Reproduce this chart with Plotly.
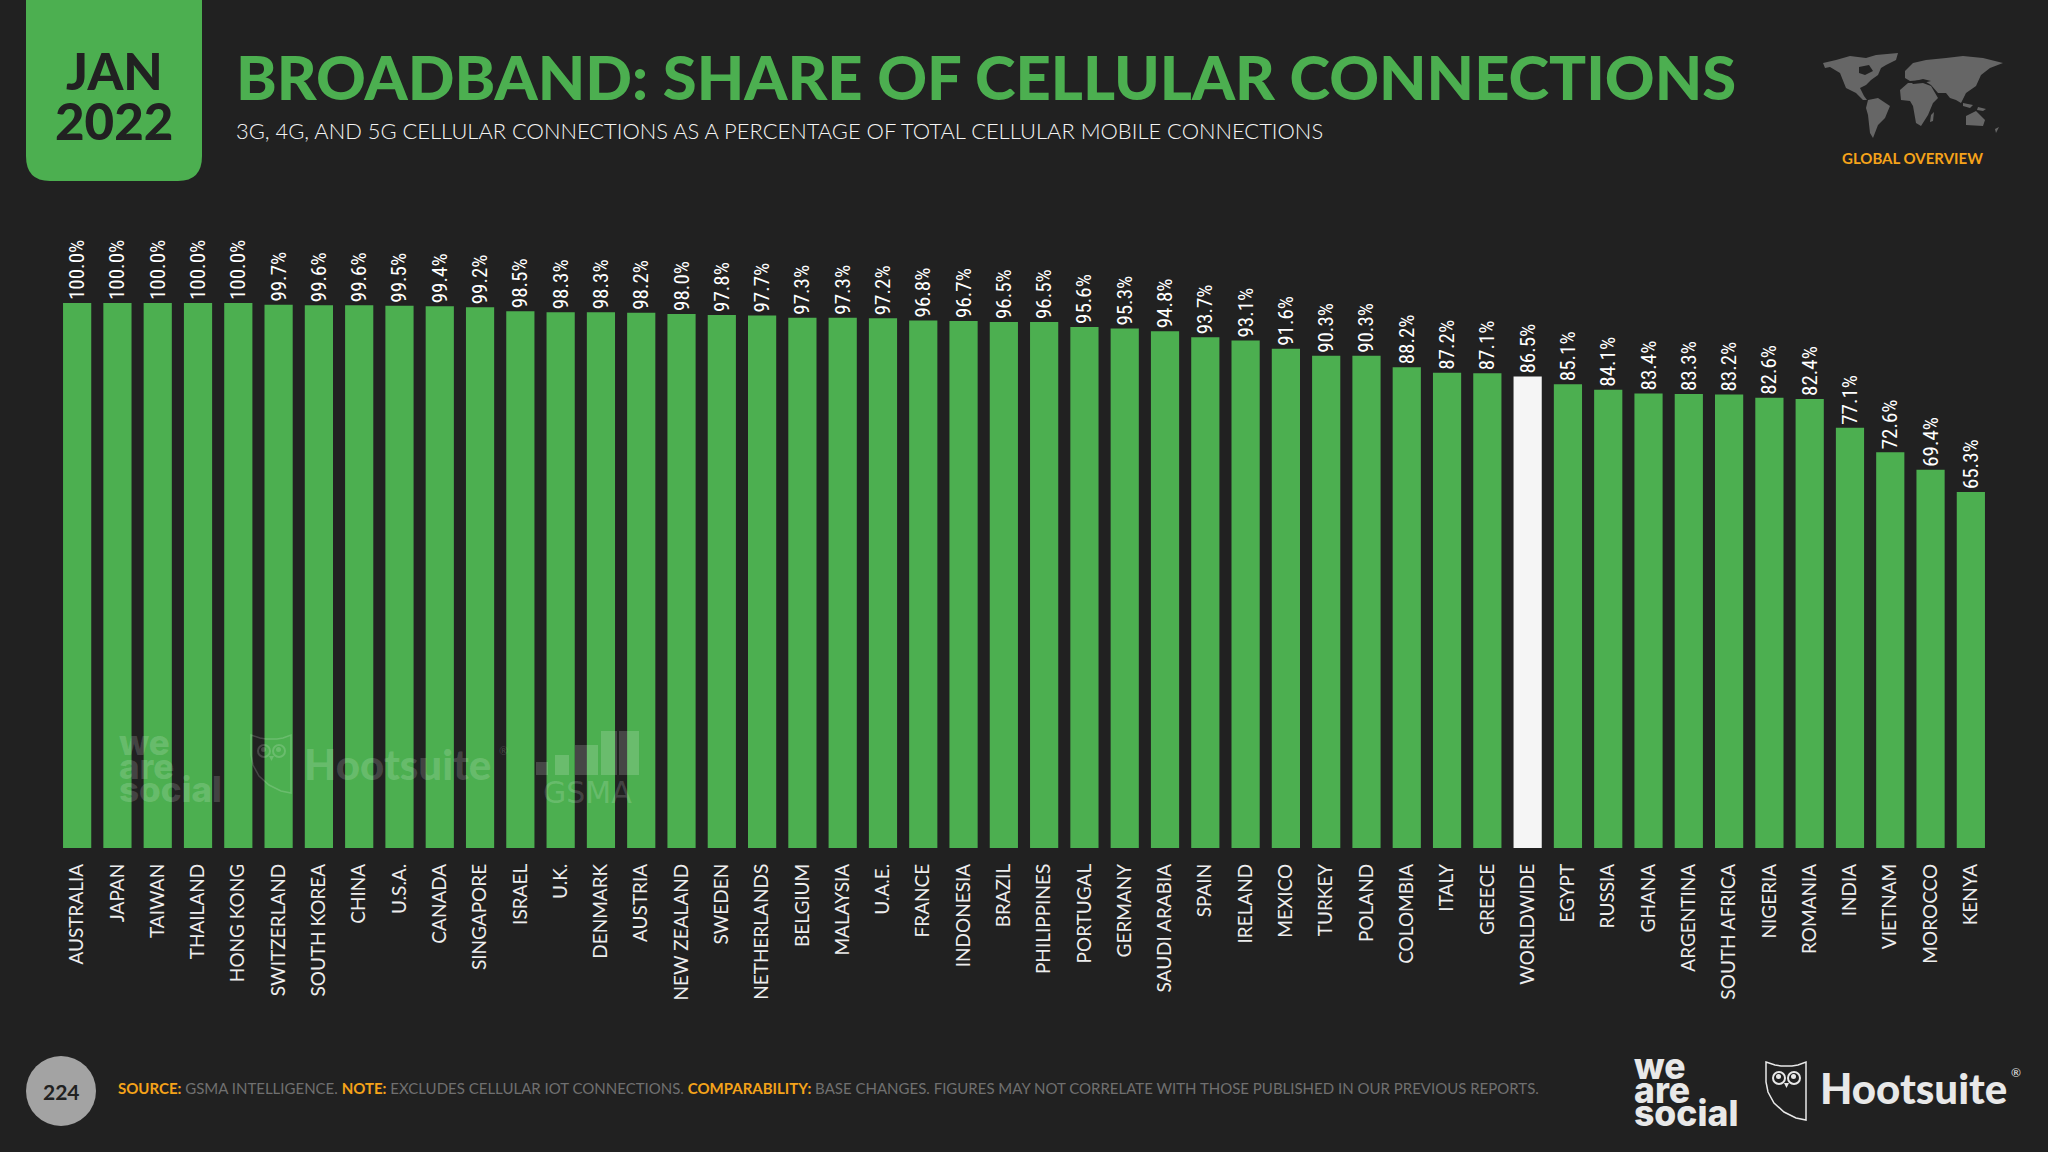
import plotly.graph_objects as go

W, H = 2048, 1152
BG = "#212121"
GREEN = "#4CAF50"
ORANGE = "#F5A31A"
WHITE = "#F5F5F5"

countries = [
    "AUSTRALIA", "JAPAN", "TAIWAN", "THAILAND", "HONG KONG", "SWITZERLAND", "SOUTH KOREA", "CHINA",
    "U.S.A.", "CANADA", "SINGAPORE", "ISRAEL", "U.K.", "DENMARK", "AUSTRIA", "NEW ZEALAND",
    "SWEDEN", "NETHERLANDS", "BELGIUM", "MALAYSIA", "U.A.E.", "FRANCE", "INDONESIA", "BRAZIL",
    "PHILIPPINES", "PORTUGAL", "GERMANY", "SAUDI ARABIA", "SPAIN", "IRELAND", "MEXICO", "TURKEY",
    "POLAND", "COLOMBIA", "ITALY", "GREECE", "WORLDWIDE", "EGYPT", "RUSSIA", "GHANA",
    "ARGENTINA", "SOUTH AFRICA", "NIGERIA", "ROMANIA", "INDIA", "VIETNAM", "MOROCCO", "KENYA",
]
share = [
    100.0, 100.0, 100.0, 100.0, 100.0, 99.7, 99.6, 99.6,
    99.5, 99.4, 99.2, 98.5, 98.3, 98.3, 98.2, 98.0,
    97.8, 97.7, 97.3, 97.3, 97.2, 96.8, 96.7, 96.5,
    96.5, 95.6, 95.3, 94.8, 93.7, 93.1, 91.6, 90.3,
    90.3, 88.2, 87.2, 87.1, 86.5, 85.1, 84.1, 83.4,
    83.3, 83.2, 82.6, 82.4, 77.1, 72.6, 69.4, 65.3,
]
highlight = "WORLDWIDE"

# outlines for the little map, in page pixels relative to the map corner
world = [
    [(0, 10), (13, 7), (27, 3), (43, 5), (53, 2), (75, 0), (73, 7), (63, 12), (58, 15), (55, 22), (48, 27),
     (43, 32), (37, 35), (41, 43), (44, 47), (40, 47), (33, 40), (23, 35), (17, 20), (7, 14), (2, 15)],
    [(45, 47), (55, 45), (67, 53), (62, 65), (55, 72), (50, 85), (47, 80), (45, 62), (43, 55)],
    [(77, 37), (85, 30), (100, 30), (108, 33), (115, 45), (110, 50), (105, 62), (98, 73), (93, 70),
     (90, 53), (87, 48), (78, 47)],
    [(82, 18), (90, 10), (103, 7), (123, 5), (140, 3), (160, 5), (180, 10), (167, 15), (158, 22), (153, 33),
     (143, 40), (138, 50), (133, 47), (127, 45), (123, 40), (115, 40), (108, 32), (100, 27), (87, 28), (82, 25)],
    [(143, 63), (153, 58), (162, 67), (160, 73), (143, 72)],
    [(108, 62), (111, 59), (110, 68), (107, 69)],
    [(140, 50), (150, 52), (147, 55), (140, 53)],
    [(155, 54), (163, 56), (160, 58), (154, 57)],
    [(172, 76), (176, 74), (173, 80)],
]
world_holes = [
    [(36, 14), (46, 12), (50, 18), (42, 22), (36, 20)],
    [(88, 29), (100, 26), (108, 28), (100, 30), (90, 31)],
]
# steps of the GSMA signal mark: left, right, top
gsma_steps = [(536, 548, 762), (555, 569, 755), (575, 598, 745), (601, 617, 731), (619, 639, 731)]


def x_pct(px):
    return px / W


def y_pct(py):
    return 1 - py / H


def poly(points, ox=0, oy=0):
    cmds = [f"{'M' if i == 0 else 'L'}{x_pct(ox + x)},{y_pct(oy + y)}" for i, (x, y) in enumerate(points)]
    return " ".join(cmds) + " Z"


def text(px, py, s, size, color, family="Lato", weight=400, anchor="left", yanchor="middle", angle=0):
    fig.add_annotation(
        x=x_pct(px), y=y_pct(py), xref="paper", yref="paper", text=s, showarrow=False,
        xanchor=anchor, yanchor=yanchor, textangle=angle, align=anchor,
        font=dict(family=family, size=size, color=color, weight=weight),
        borderpad=0,
    )


def owl(ox, oy, color):
    # outline of the owl badge, about 40 x 58 px
    pts = [(0, 0), (9, 3), (15, 4), (26, 4), (32, 3), (40, 0), (40, 58), (30, 56), (18, 50), (8, 41), (2, 30), (0, 20)]
    fig.add_shape(type="path", xref="paper", yref="paper", path=poly(pts, ox, oy),
                  line=dict(color=color, width=1.5), fillcolor="rgba(0,0,0,0)", layer="above")
    for ex in (13, 28):
        fig.add_shape(type="circle", xref="paper", yref="paper",
                      x0=x_pct(ox + ex - 6), x1=x_pct(ox + ex + 6), y0=y_pct(oy + 22), y1=y_pct(oy + 10),
                      line=dict(color=color, width=2), fillcolor="rgba(0,0,0,0)", layer="above")
        fig.add_shape(type="circle", xref="paper", yref="paper",
                      x0=x_pct(ox + ex - 3), x1=x_pct(ox + ex + 2), y0=y_pct(oy + 17), y1=y_pct(oy + 12),
                      line_width=0, fillcolor=color, layer="above")
    fig.add_shape(type="path", xref="paper", yref="paper", path=poly([(18, 21), (23, 21), (20.5, 26)], ox, oy),
                  line_width=0, fillcolor=color, layer="above")


bar_colors = [WHITE if c == highlight else GREEN for c in countries]

fig = go.Figure()
fig.add_bar(
    x=countries, y=share,
    marker=dict(color=bar_colors, line_width=0),
    text=[f"{v:.1f}%\u00a0\u00a0" for v in share],
    textposition="outside", textangle=-90, cliponaxis=False, constraintext="none",
    textfont=dict(family="Roboto Condensed, Open Sans Condensed, Noto Sans Condensed, DejaVu Sans Condensed, Roboto",
                  size=21, color="#FFFFFF"),
    hoverinfo="x+y",
)
fig.update_layout(
    width=W, height=H, margin=dict(l=0, r=0, t=0, b=0),
    paper_bgcolor=BG, plot_bgcolor=BG, showlegend=False, bargap=0.3,
    font=dict(family="Lato", color=WHITE),
)
fig.update_xaxes(
    domain=[57 / W, 1991 / W], type="category", tickmode="array", tickvals=countries, ticktext=countries,
    tickangle=-90, ticks="", showgrid=False, showline=False, zeroline=False, automargin=False,
    ticklabelstandoff=11, tickfont=dict(family="Lato", size=19, color="#EDEDED"),
)
fig.update_yaxes(
    domain=[1 - 848 / H, 1 - 303 / H], range=[0, 100], visible=False, automargin=False,
)

# date tile
r = 24
fig.add_shape(type="path", xref="paper", yref="paper", fillcolor=GREEN, line_width=0, layer="below",
              path=(f"M{x_pct(26)},{y_pct(0)} L{x_pct(202)},{y_pct(0)} L{x_pct(202)},{y_pct(180 - r)} "
                    f"Q{x_pct(202)},{y_pct(181)} {x_pct(202 - r)},{y_pct(181)} L{x_pct(26 + r)},{y_pct(181)} "
                    f"Q{x_pct(26)},{y_pct(181)} {x_pct(26)},{y_pct(180 - r)} Z"))
text(114, 71, "JAN", 51, BG, weight=900, anchor="center")
text(114, 121, "2022", 51, BG, weight=900, anchor="center")

text(235, 76, "BROADBAND: SHARE OF CELLULAR CONNECTIONS", 61.5, GREEN, weight=900)
text(235, 130, "3G, 4G, AND 5G CELLULAR CONNECTIONS AS A PERCENTAGE OF TOTAL CELLULAR MOBILE CONNECTIONS", 21.9, WHITE,
     weight=300)

# world map and section tag
for part in world:
    fig.add_shape(type="path", xref="paper", yref="paper", path=poly(part, 1823, 53),
                  fillcolor="#666666", line_width=0, layer="below")
for part in world_holes:
    fig.add_shape(type="path", xref="paper", yref="paper", path=poly(part, 1823, 53),
                  fillcolor=BG, line_width=0, layer="below")
text(1912, 158, "GLOBAL OVERVIEW", 15, ORANGE, weight=700, anchor="center")

# footer
fig.add_shape(type="circle", xref="paper", yref="paper", x0=x_pct(26), x1=x_pct(96), y0=y_pct(1126), y1=y_pct(1056),
              fillcolor="#A3A3A3", line_width=0, layer="below")
text(61, 1091, "224", 21, BG, weight=700, anchor="center")
orange = lambda s: f'<span style="color:{ORANGE}"><b>{s}</b></span>'
text(117, 1088,
     f"{orange('SOURCE:')} GSMA INTELLIGENCE. {orange('NOTE:')} EXCLUDES CELLULAR IOT CONNECTIONS. "
     f"{orange('COMPARABILITY:')} BASE CHANGES. FIGURES MAY NOT CORRELATE WITH THOSE PUBLISHED IN OUR PREVIOUS REPORTS.",
     15, "#707070")

# logos
for line, py in (("we", 1066), ("are", 1090), ("social", 1113)):
    text(1633, py, line, 35.5, "#E8E8E8", family="Inter", weight=800)
owl(1766, 1062, "#E8E8E8")
text(1819, 1088, "Hootsuite", 42, "#E8E8E8", weight=900)
text(2010, 1072, "®", 12, "#E8E8E8")

# watermarks over the bars
MARK = "rgba(255,255,255,0.17)"
for line, py in (("we", 742), ("are", 766), ("social", 789)):
    text(118, py, line, 35, MARK, family="Inter", weight=800)
owl(251, 735, MARK)
text(303, 764, "Hootsuite", 42, MARK, weight=900)
text(498, 750, "®", 11, MARK)
for x0, x1, top in gsma_steps:
    fig.add_shape(type="rect", xref="paper", yref="paper", x0=x_pct(x0), x1=x_pct(x1), y0=y_pct(775), y1=y_pct(top),
                  fillcolor=MARK, line_width=0, layer="above")
text(587, 792, "GSMA", 30, MARK, family="DejaVu Sans", anchor="center")

fig.write_html("out.html", config={"displayModeBar": False},
               post_script="document.body.style.margin='0';document.body.style.background='#212121';")
